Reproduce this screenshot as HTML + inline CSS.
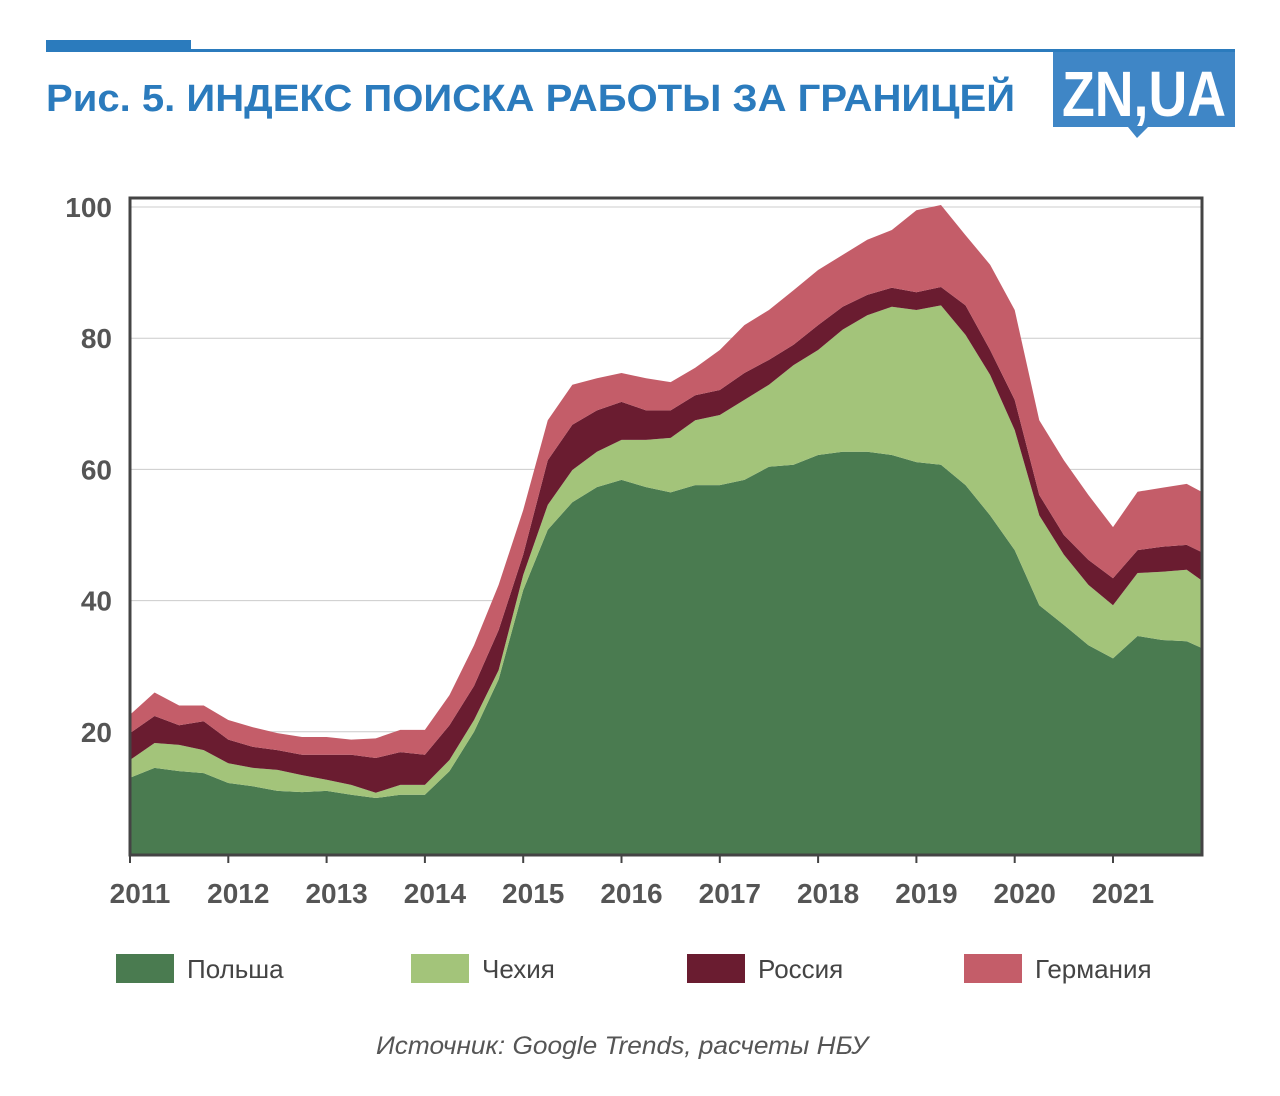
<!DOCTYPE html>
<html><head><meta charset="utf-8">
<style>
body{margin:0;width:1280px;height:1091px;background:#fff;overflow:hidden;font-family:"Liberation Sans",sans-serif}
</style></head><body>
<svg id="c" width="1280" height="1091" viewBox="0 0 1280 1091" xmlns="http://www.w3.org/2000/svg">
<rect x="46" y="40" width="145" height="12" fill="#2b7bbd"/>
<rect x="190" y="49" width="1045" height="3" fill="#2b7bbd"/>
<text x="46" y="111" font-size="38" font-weight="bold" fill="#2b7bbd" textLength="969" lengthAdjust="spacingAndGlyphs">Рис. 5. ИНДЕКС ПОИСКА РАБОТЫ ЗА ГРАНИЦЕЙ</text>
<g>
<path d="M1053 52 H1235 V127 H1148 L1137 138 L1128 127 H1053 Z" fill="#3f86c6"/>
<text x="1144" y="116" font-size="64" font-weight="bold" fill="#fff" text-anchor="middle" textLength="164" lengthAdjust="spacingAndGlyphs">ZN,UA</text>
</g>
<g id="plot"></g>
<text x="376" y="1054" font-size="25" font-style="italic" fill="#555" textLength="492" lengthAdjust="spacingAndGlyphs">Источник: Google Trends, расчеты НБУ</text>
</svg>
<script>
const years=[2011,2011.25,2011.5,2011.75,2012,2012.25,2012.5,2012.75,2013,2013.25,2013.5,2013.75,2014,2014.25,2014.5,2014.75,2015,2015.25,2015.5,2015.75,2016,2016.25,2016.5,2016.75,2017,2017.25,2017.5,2017.75,2018,2018.25,2018.5,2018.75,2019,2019.25,2019.5,2019.75,2020,2020.25,2020.5,2020.75,2021,2021.25,2021.5,2021.75,2021.9];
const poland=[13,14.5,14,13.7,12.2,11.7,11,10.8,11,10.4,9.9,10.4,10.4,14,20,28,41.6,50.8,55,57.3,58.4,57.3,56.5,57.6,57.6,58.4,60.4,60.7,62.2,62.7,62.7,62.2,61.1,60.7,57.6,53,47.7,39.3,36.3,33.2,31.2,34.6,34,33.8,32.8];
const czech=[2.7,3.8,4,3.5,3,2.8,3.2,2.6,1.7,1.5,0.8,1.5,1.5,1.7,1.8,1.4,2.3,3.8,4.9,5.4,6.1,7.2,8.3,9.9,10.7,12.2,12.5,15.2,16,18.6,20.8,22.6,23.2,24.3,22.9,21.4,18.3,13.7,10.7,9.2,8.1,9.6,10.4,10.9,10.3];
const russia=[4.1,4.1,3,4.4,3.6,3.2,3,3.1,3.8,4.6,5.3,5,4.6,5.3,5.2,6.1,3.1,6.8,6.9,6.3,5.8,4.5,4.2,3.8,3.8,4.1,3.8,3.1,3.8,3.5,3.1,2.9,2.7,2.8,4.5,3.8,4.6,3.1,3,3.8,4.1,3.5,3.8,3.8,4.3];
const germany=[2.8,3.6,3,2.4,3,3,2.6,2.7,2.7,2.3,3,3.4,3.8,4.6,6.2,6.9,6.8,6.1,6.1,4.9,4.4,4.9,4.3,4.2,6.1,7.3,7.6,8.3,8.4,7.9,8.4,8.8,12.5,12.5,10.7,13,13.7,11.4,11.4,9.9,7.8,8.9,9,9.3,9.2];
const yTicks=[20,40,60,80,100];
const xTicks=[2011,2012,2013,2014,2015,2016,2017,2018,2019,2020,2021];
const seriesNames=["Польша","Чехия","Россия","Германия"];

const NS="http://www.w3.org/2000/svg";
const L=130,R=1202,T=198,B=855;
const X=v=>130+(v-2011)*98.3;
const Y=v=>863-v*6.56;
const g=document.getElementById('plot');
function mk(t,a){const e=document.createElementNS(NS,t);for(const k in a)e.setAttribute(k,a[k]);g.appendChild(e);return e;}
yTicks.forEach(t=>{
 const l=mk('line',{x1:L,x2:R,y1:Y(t),y2:Y(t),stroke:'#ccc','stroke-width':1});
 
 
 const tx=mk('text',{x:112,y:Y(t)+10,'font-size':28,'font-weight':'bold',fill:'#555','text-anchor':'end'});
 tx.textContent=t;
 
 
});
const colors=["#4a7b50","#a3c47a","#6a1c30","#c45d69"];
const data=[poland,czech,russia,germany];
let base=years.map(()=>0);
const cx=document.createElementNS(NS,'clipPath');cx.id='clp';
const cr=document.createElementNS(NS,'rect');cr.setAttribute('x',L);cr.setAttribute('y',T);cr.setAttribute('width',R-L);cr.setAttribute('height',B-T);
cx.appendChild(cr);g.appendChild(cx);
data.forEach((s,i)=>{
 const top=base.map((b,j)=>b+s[j]);
 let d='M'+years.map((yr,j)=>X(yr)+' '+Y(top[j])).join(' L');
 for(let j=years.length-1;j>=0;j--)d+=' L'+X(years[j])+' '+(i===0?B+10:Y(base[j]));
 d+='Z';
 const p=mk('path',{d:d,fill:colors[i],'clip-path':'url(#clp)'});
 
 
 base=top;
});
const fr=mk('rect',{x:L,y:T,width:R-L,height:B-T,fill:'none',stroke:'#444','stroke-width':3});


xTicks.forEach(t=>{
 const l=mk('line',{x1:X(t),x2:X(t),y1:B,y2:B+8,stroke:'#444','stroke-width':2});
 
 
 const tx=mk('text',{x:X(t)+10,y:903,'font-size':28,'font-weight':'bold',fill:'#555','text-anchor':'middle'});
 tx.textContent=t;
 
 
});
const lx=[116,411,687,964];
seriesNames.forEach((n,i)=>{
 const r=mk('rect',{x:lx[i],y:954,width:58,height:29,fill:colors[i]});
 
 
 const tx=mk('text',{x:lx[i]+71,y:978,'font-size':26,fill:'#444'});
 tx.textContent=n;
 
 
});
</script>
</body></html>
